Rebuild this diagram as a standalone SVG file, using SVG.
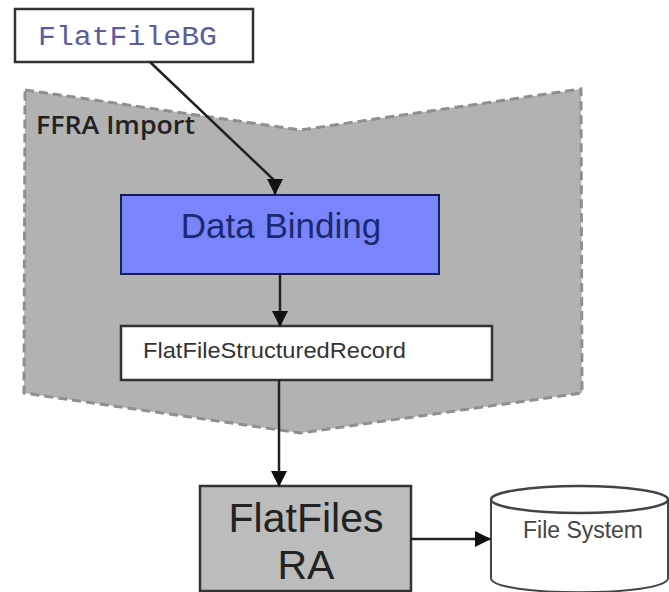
<svg xmlns="http://www.w3.org/2000/svg" width="669" height="592" viewBox="0 0 669 592">
<style>
.box{stroke:#333;stroke-width:2.5}
.con{fill:none;stroke:#222;stroke-width:2.500}
text{font-family:"Liberation Sans",Arial,sans-serif}
</style>
<defs><marker id="a" markerUnits="userSpaceOnUse" markerWidth="16" markerHeight="16" refX="15" refY="8" orient="auto"><path d="M0 0L16 8L0 16Z" fill="#111"/></marker></defs>
<rect width="669" height="592" fill="#fff"/>
<g id="ffra-import">
<path d="M25 90L300 130L581 89L582 393L300 433L24 393Z" fill="#b2b2b2" stroke="#8f8f8f" stroke-width="3" stroke-dasharray="9 5"/>
<text x="36" y="134" style="font-family:'Open Sans',sans-serif" font-size="26" font-weight="600" fill="#222" textLength="159" lengthAdjust="spacingAndGlyphs">FFRA Import</text>
</g>
<g id="flatfilebg">
<rect class="box" x="15" y="9" width="238" height="53" fill="#fff"/>
<text x="38" y="45" style="font-family:'Liberation Mono',monospace" font-size="27" fill="#5b5b9e" textLength="179" lengthAdjust="spacingAndGlyphs">FlatFileBG</text>
</g>
<g id="data-binding">
<rect x="121" y="195" width="318" height="79" fill="#7a84fb" stroke="#1c1c55" stroke-width="2"/>
<text x="281" y="238" text-anchor="middle" font-size="35" fill="#1a2a70">Data Binding</text>
</g>
<g id="record">
<rect class="box" x="121" y="326" width="371" height="54" fill="#fff"/>
<text x="143" y="358" font-size="22" fill="#333" textLength="263" lengthAdjust="spacingAndGlyphs">FlatFileStructuredRecord</text>
</g>
<g id="flatfiles-ra">
<rect class="box" x="200" y="486" width="211" height="105" fill="#bcbcbc"/>
<text x="306" y="532" text-anchor="middle" font-size="41" fill="#222">FlatFiles</text>
<text x="306" y="579" text-anchor="middle" font-size="41" fill="#222">RA</text>
</g>
<g id="file-system">
<path d="M491 500V578C491 597 668 597 668 578V500" fill="#fff" stroke="#444" stroke-width="2"/>
<ellipse cx="579.500" cy="499.500" rx="88.500" ry="13.500" fill="#fff" stroke="#444" stroke-width="2.500"/>
<text x="583" y="538" text-anchor="middle" font-size="23" fill="#444" textLength="120" lengthAdjust="spacingAndGlyphs">File System</text>
</g>
<g id="connectors">
<path class="con" d="M150 62L275 181V194" marker-end="url(#a)"/>
<path class="con" d="M280 274V326" marker-end="url(#a)"/>
<path class="con" d="M279 380V486" marker-end="url(#a)"/>
<path class="con" d="M411 539H490" marker-end="url(#a)"/>
</g>
</svg>
